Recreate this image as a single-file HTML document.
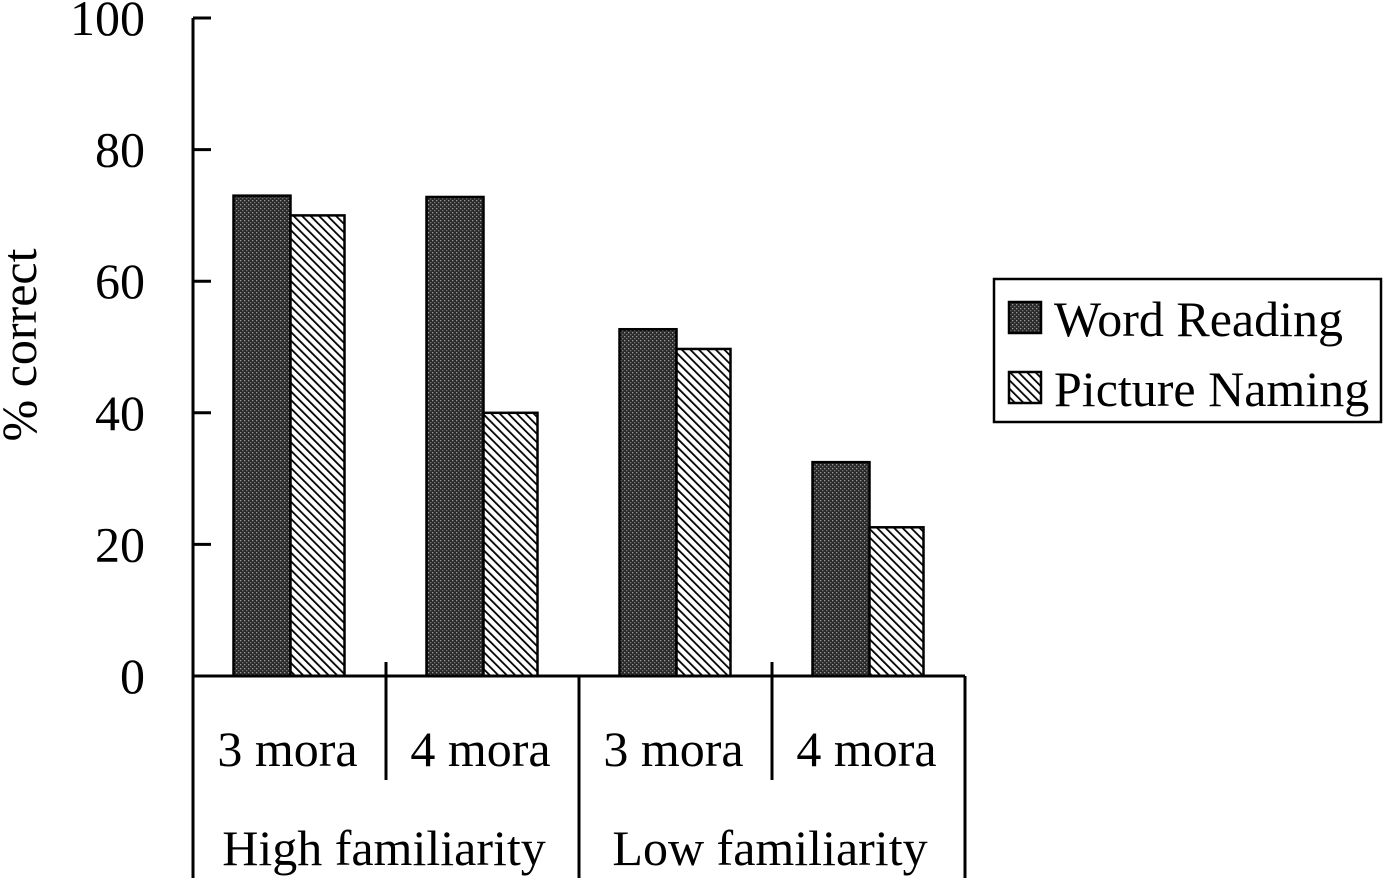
<!DOCTYPE html>
<html><head><meta charset="utf-8"><style>
html,body{margin:0;padding:0;background:#fff;}
svg{display:block;}
text{font-family:"Liberation Serif",serif;fill:#000;}
</style></head><body>
<svg id="chart" width="1384" height="883" viewBox="0 0 1384 883">
<defs>
<pattern id="dots" width="4" height="4" patternUnits="userSpaceOnUse">
<rect width="4" height="4" fill="#2a2a2a"/><rect x="0" y="0" width="1.3" height="1.3" fill="#9a9a9a"/><rect x="2" y="2" width="1.3" height="1.3" fill="#777"/>
</pattern>
<pattern id="hatch" width="6" height="6" patternUnits="userSpaceOnUse" patternTransform="rotate(-45)">
<rect width="6" height="6" fill="#fff"/><rect x="0" y="0" width="1.8" height="6" fill="#000"/>
</pattern>
</defs>
<g id="bars"></g>
<g id="axes"></g>
<g>
<rect x="994" y="279" width="387" height="143" fill="none" stroke="#000" stroke-width="2.5"/>
<rect x="1009" y="302" width="32" height="31" fill="url(#dots)" stroke="#000" stroke-width="2.5"/>
<text x="1054" y="336" font-size="50">Word Reading</text>
<rect x="1009" y="372" width="32" height="31" fill="url(#hatch)" stroke="#000" stroke-width="2.5"/>
<text x="1054" y="406" font-size="50">Picture Naming</text>
</g>
<text transform="translate(36,345) rotate(-90)" text-anchor="middle" font-size="50">% correct</text>
</svg>
<script>
const categories = ["3 mora","4 mora","3 mora","4 mora"];
const groups = ["High familiarity","Low familiarity"];
const wordReading = [73, 72.8, 52.7, 32.5];
const pictureNaming = [70, 40, 49.7, 22.6];
const yTicks = [0, 20, 40, 60, 80, 100];

const NS = "http://www.w3.org/2000/svg";
const x0 = 193, x1 = 965, yBase = 676, yTop = 18;
const catW = (x1 - x0) / categories.length;
function yScale(v){ return yBase - (v / 100) * (yBase - yTop); }
function xCat(i){ return x0 + i * catW; }
function mk(tag, attrs, parent){ const e = document.createElementNS(NS, tag); for (const k in attrs) e.setAttribute(k, attrs[k]); parent.appendChild(e); return e; }

const bars = document.getElementById("bars");
const axes = document.getElementById("axes");
categories.forEach((c, i) => {
  const cx = xCat(i) + catW / 2;
  const r1 = mk("rect", {x: cx - 56, y: yScale(wordReading[i]), width: 57, height: yBase - yScale(wordReading[i]), fill: "url(#dots)", stroke: "#000", "stroke-width": 2.5}, bars);
  
  
  const r2 = mk("rect", {x: cx + 1, y: yScale(pictureNaming[i]), width: 54, height: yBase - yScale(pictureNaming[i]), fill: "url(#hatch)", stroke: "#000", "stroke-width": 2.5}, bars);
  
  
  const t = mk("text", {x: cx - 2, y: 766, "font-size": 50, "text-anchor": "middle"}, axes);
  t.textContent = c;
  
  
});
const ya = mk("line", {x1: x0, y1: yTop, x2: x0, y2: yBase, stroke: "#000", "stroke-width": 3}, axes);


const xa = mk("line", {x1: x0, y1: yBase, x2: x1, y2: yBase, stroke: "#000", "stroke-width": 3}, axes);


yTicks.forEach(v => {
  const y = yScale(v);
  const tk = mk("line", {x1: x0, y1: y, x2: x0 + 18, y2: y, stroke: "#000", "stroke-width": 3}, axes);
  
  
  const lb = mk("text", {x: 145, y: y + 17, "font-size": 50, "text-anchor": "end"}, axes);
  lb.textContent = v;
  
  
});
for (let i = 0; i <= categories.length; i++) {
  const major = i % 2 === 0;
  const d = mk("line", {x1: xCat(i), y1: major ? yBase : 662, x2: xCat(i), y2: major ? 878 : 780, stroke: "#000", "stroke-width": 3}, axes);
  
  
}
groups.forEach((g, j) => {
  const t = mk("text", {x: xCat(j * 2) + catW - 2, y: 865, "font-size": 50, "text-anchor": "middle"}, axes);
  t.textContent = g;
  
  
});
</script>
</body></html>
